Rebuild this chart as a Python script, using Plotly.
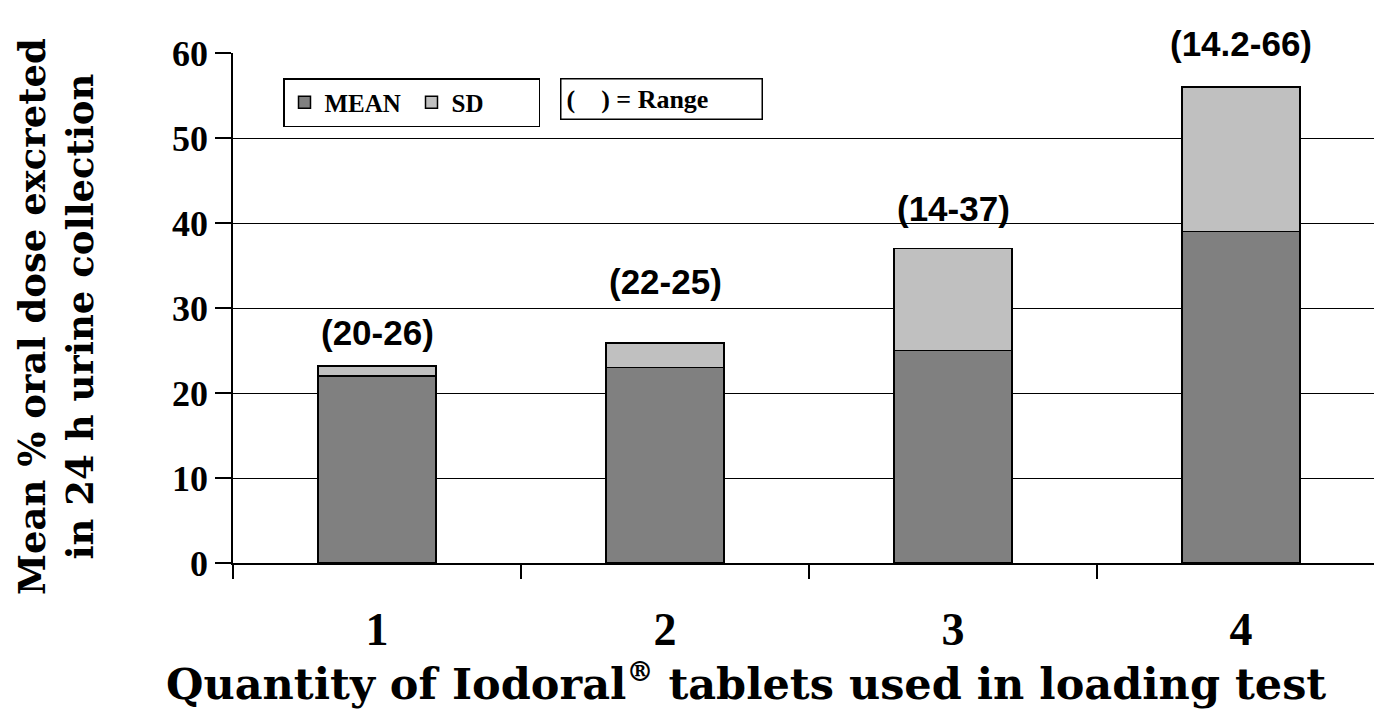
import plotly.graph_objects as go

# ---- data ----
categories = [1, 2, 3, 4]
tick_labels = ["1", "2", "3", "4"]
mean_values = [22, 23, 25, 39]
sd_values = [1.2, 2.9, 12, 17]
range_labels = ["(20-26)", "(22-25)", "(14-37)", "(14.2-66)"]

# ---- style ----
label_gap = [18, 46, 25, 28]
W, H = 1374, 709
L, T, B = 233, 53, 146
PW, PH = W - L, H - B - T


def px_x(p):
    return (p - L) / PW


def px_y(p):
    return (H - B - p) / PH


fig = go.Figure()
fig.add_trace(go.Bar(x=categories, y=mean_values, name="MEAN", width=0.41,
                     marker=dict(color="#808080", line=dict(color="black", width=1.5))))
fig.add_trace(go.Bar(x=categories, y=sd_values, name="SD", width=0.41,
                     marker=dict(color="#c0c0c0", line=dict(color="black", width=1.5))))

tops = [m + s for m, s in zip(mean_values, sd_values)]
for c, t, lab, g in zip(categories, tops, range_labels, label_gap):
    fig.add_annotation(x=c, y=t, text=lab, showarrow=False, yanchor="bottom",
                       yshift=g - 6,
                       font=dict(family="Liberation Sans", size=35, color="black", weight="bold"))

# range key box
fig.add_annotation(xref="paper", yref="paper", x=px_x(560), y=px_y(78),
                   xanchor="left", yanchor="top", showarrow=False,
                   text="(\u00a0\u00a0\u00a0\u00a0) = Range",
                   font=dict(family="Liberation Serif", size=26, color="black", weight="bold"),
                   bordercolor="black", borderwidth=1.5, borderpad=5, width=190, align="left",
                   bgcolor="white")

# axis titles
fig.add_annotation(xref="paper", yref="paper", x=px_x(746), y=px_y(682),
                   xanchor="center", yanchor="middle", showarrow=False,
                   text="Quantity of Iodoral<sup><span style=\"font-size:27px\">®</span></sup> tablets used in loading test",
                   font=dict(family="DejaVu Serif", size=43, color="black", weight="bold"))
fig.add_annotation(xref="paper", yref="paper", x=px_x(56), y=px_y(317),
                   xanchor="center", yanchor="middle", showarrow=False, textangle=-90,
                   text="Mean % oral dose excreted<br>in 24 h urine collection",
                   font=dict(family="DejaVu Serif", size=37, color="black", weight="bold"))

fig.update_layout(
    width=W, height=H,
    margin=dict(l=L, r=0, t=T, b=B, autoexpand=False),
    barmode="stack",
    paper_bgcolor="white", plot_bgcolor="white",
    showlegend=True,
    legend=dict(orientation="h", x=px_x(283), y=px_y(78),
                xanchor="left", yanchor="top",
                bordercolor="black", borderwidth=1.5, bgcolor="white",
                font=dict(family="Liberation Serif", size=25, color="black", weight="bold"),
                itemwidth=30, entrywidth=82, traceorder="normal"),
    xaxis=dict(range=[0.5, 0.5 + PW / 288], tickmode="array", tickvals=categories,
               ticktext=tick_labels, ticks="", showgrid=False, zeroline=False,
               showline=True, linecolor="black", linewidth=1.5, automargin=False,
               ticklabelstandoff=25,
               tickfont=dict(family="Liberation Serif", size=46, color="black", weight="bold"),
               minor=dict(tickmode="array", tickvals=[c - 0.5 for c in categories],
                          ticks="outside", ticklen=14, tickwidth=1.5, tickcolor="black",
                          showgrid=False)),
    yaxis=dict(range=[0, 60], tickmode="array", tickvals=[0, 10, 20, 30, 40, 50, 60],
               showgrid=True, gridcolor="black", gridwidth=1, zeroline=False,
               showline=True, linecolor="black", linewidth=1.5, automargin=False,
               ticks="outside", ticklen=16, tickwidth=1.5, tickcolor="black",
               tickfont=dict(family="Liberation Serif", size=36, color="black", weight="bold")),
)

fig.write_html("out.html", config={"displayModeBar": False},
               post_script="document.body.style.margin='0';document.body.style.overflow='hidden';")
